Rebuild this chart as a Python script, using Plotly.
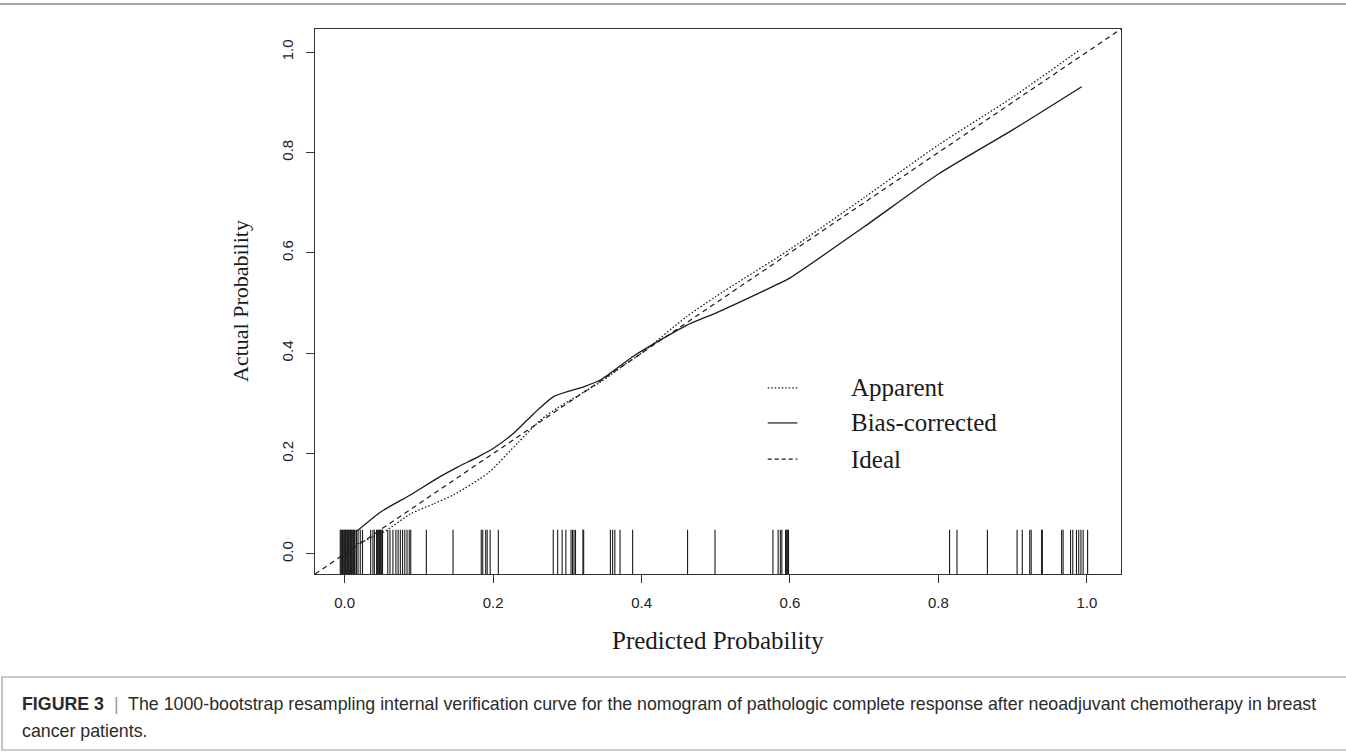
import plotly.graph_objects as go

# ---- data ----
apparent_x = [0.017, 0.053, 0.089, 0.12, 0.147, 0.193, 0.233, 0.264, 0.287, 0.345, 0.38, 0.40, 0.46, 0.50, 0.60, 0.70, 0.80, 0.90, 0.991]
apparent_y = [0.020, 0.044, 0.080, 0.10, 0.118, 0.161, 0.221, 0.267, 0.291, 0.343, 0.38, 0.40, 0.472, 0.513, 0.607, 0.71, 0.815, 0.91, 1.005]

bias_x = [0.017, 0.049, 0.089, 0.125, 0.152, 0.179, 0.201, 0.228, 0.255, 0.282, 0.322, 0.345, 0.39, 0.46, 0.50, 0.58, 0.60, 0.70, 0.80, 0.90, 0.993]
bias_y = [0.046, 0.084, 0.118, 0.151, 0.173, 0.193, 0.211, 0.241, 0.280, 0.314, 0.333, 0.347, 0.395, 0.455, 0.48, 0.535, 0.55, 0.652, 0.757, 0.845, 0.931]

ideal_x = [-0.05, 1.06]
ideal_y = [-0.05, 1.06]

rug_x = [-0.006, -0.005, -0.004, -0.003, -0.002, -0.001, 0.0, 0.001, 0.002, 0.003, 0.004, 0.005,
         0.006, 0.007, 0.008, 0.009, 0.010, 0.011, 0.012, 0.013, 0.014,
         0.016, 0.018, 0.021, 0.024, 0.035, 0.038, 0.040,
         0.043, 0.044, 0.045, 0.046, 0.047, 0.048, 0.049, 0.050, 0.051,
         0.058, 0.061, 0.065, 0.069, 0.072, 0.075, 0.078, 0.081, 0.084, 0.087, 0.089,
         0.110, 0.146, 0.184, 0.186, 0.190, 0.192, 0.196, 0.207,
         0.281, 0.287, 0.293, 0.298, 0.305, 0.307, 0.309, 0.311, 0.321, 0.322,
         0.358, 0.361, 0.364, 0.371, 0.388, 0.462, 0.499,
         0.577, 0.584, 0.587, 0.589, 0.594, 0.595, 0.596, 0.597, 0.598,
         0.815, 0.825, 0.866, 0.906, 0.913, 0.923, 0.925, 0.939, 0.940,
         0.966, 0.968, 0.978, 0.981, 0.986, 0.989, 0.992, 0.995, 1.001]

tick_vals = [0.0, 0.2, 0.4, 0.6, 0.8, 1.0]
tick_text = ["0.0", "0.2", "0.4", "0.6", "0.8", "1.0"]
legend_labels = ["Apparent", "Bias-corrected", "Ideal"]

x_title = "Predicted Probability"
y_title = "Actual Probability"
caption_1 = ("<b>FIGURE 3</b>  <span style='color:#999'>|</span>  The 1000-bootstrap resampling internal "
             "verification curve for the nomogram of pathologic complete response after neoadjuvant "
             "chemotherapy in breast")
caption_2 = "cancer patients."

# ---- figure geometry (pixels) ----
W, H = 1346, 754
L, R, T, B = 315, 1121, 29, 574
pw, ph = R - L, B - T


def px(xp):
    return (xp - L) / pw


def py(yp):
    return (B - yp) / ph


RUG_LO, RUG_HI = -0.04, 0.048
INK = "#1a1a1a"

fig = go.Figure()

# rug
rx, ry = [], []
for v in rug_x:
    rx += [v, v, None]
    ry += [RUG_LO, RUG_HI, None]
fig.add_trace(go.Scatter(x=rx, y=ry, mode="lines", line=dict(color=INK, width=1.1),
                         hoverinfo="skip", showlegend=False))

fig.add_trace(go.Scatter(x=ideal_x, y=ideal_y, mode="lines", name="Ideal",
                         line=dict(color=INK, width=1.2, dash="5px,4px"), showlegend=False))
fig.add_trace(go.Scatter(x=apparent_x, y=apparent_y, mode="lines", name="Apparent",
                         line=dict(color=INK, width=1.3, dash="1.5px,2px", shape="spline", smoothing=0.6),
                         showlegend=False))
fig.add_trace(go.Scatter(x=bias_x, y=bias_y, mode="lines", name="Bias-corrected",
                         line=dict(color=INK, width=1.3, shape="spline", smoothing=0.6),
                         showlegend=False))

# in-plot legend
leg_dash = ["1.5px,2px", "solid", "4px,3px"]
leg_y = [0.331, 0.261, 0.189]
for lab, d, yy in zip(legend_labels, leg_dash, leg_y):
    fig.add_trace(go.Scatter(x=[0.570, 0.610], y=[yy, yy], mode="lines",
                             line=dict(color=INK, width=1.2, dash=d), hoverinfo="skip", showlegend=False))
    fig.add_annotation(x=0.679, y=yy, xref="x", yref="y", text=lab, showarrow=False,
                       xanchor="left", yanchor="middle",
                       font=dict(family="Liberation Serif", size=25, color=INK))

axis_common = dict(
    tickmode="array", tickvals=tick_vals, ticktext=tick_text,
    ticks="outside", ticklen=8, tickwidth=1.2, tickcolor="#333",
    showline=True, linecolor="#333", linewidth=1.3, mirror=True,
    showgrid=False, zeroline=False,
    tickfont=dict(family="Liberation Sans", size=15, color="#222"),
)

fig.update_layout(
    width=W, height=H,
    margin=dict(l=L, r=W - R, t=T, b=H - B),
    paper_bgcolor="white", plot_bgcolor="white",
    xaxis=dict(range=[-0.04, 1.046], ticklabelstandoff=7, **axis_common),
    yaxis=dict(range=[-0.04, 1.046], tickangle=-90, ticklabelstandoff=7, **axis_common),
)

# axis titles
fig.add_annotation(x=0.5, y=py(640), xref="paper", yref="paper", text=x_title, showarrow=False,
                   xanchor="center", yanchor="middle",
                   font=dict(family="Liberation Serif", size=25, color=INK))
fig.add_annotation(x=px(240), y=py(301), xref="paper", yref="paper", text=y_title, showarrow=False,
                   textangle=-90, xanchor="center", yanchor="middle",
                   font=dict(family="Liberation Serif", size=22, color=INK))

# frame lines
fig.add_shape(type="line", xref="paper", yref="paper", x0=px(0), x1=px(W + 5), y0=py(4), y1=py(4),
              line=dict(color="#8a8a8a", width=1.5))
fig.add_shape(type="rect", xref="paper", yref="paper", x0=px(2), x1=px(W + 5), y0=py(677), y1=py(750),
              line=dict(color="#9a9a9a", width=1.2), fillcolor="rgba(0,0,0,0)")

# caption
fig.add_annotation(x=px(20), y=py(704), xref="paper", yref="paper", text=caption_1, showarrow=False,
                   xanchor="left", yanchor="middle", align="left",
                   font=dict(family="Liberation Sans", size=17.8, color="#2b2b2b"))
fig.add_annotation(x=px(20), y=py(731), xref="paper", yref="paper", text=caption_2, showarrow=False,
                   xanchor="left", yanchor="middle", align="left",
                   font=dict(family="Liberation Sans", size=17.8, color="#2b2b2b"))

fig.write_html("out.html")
